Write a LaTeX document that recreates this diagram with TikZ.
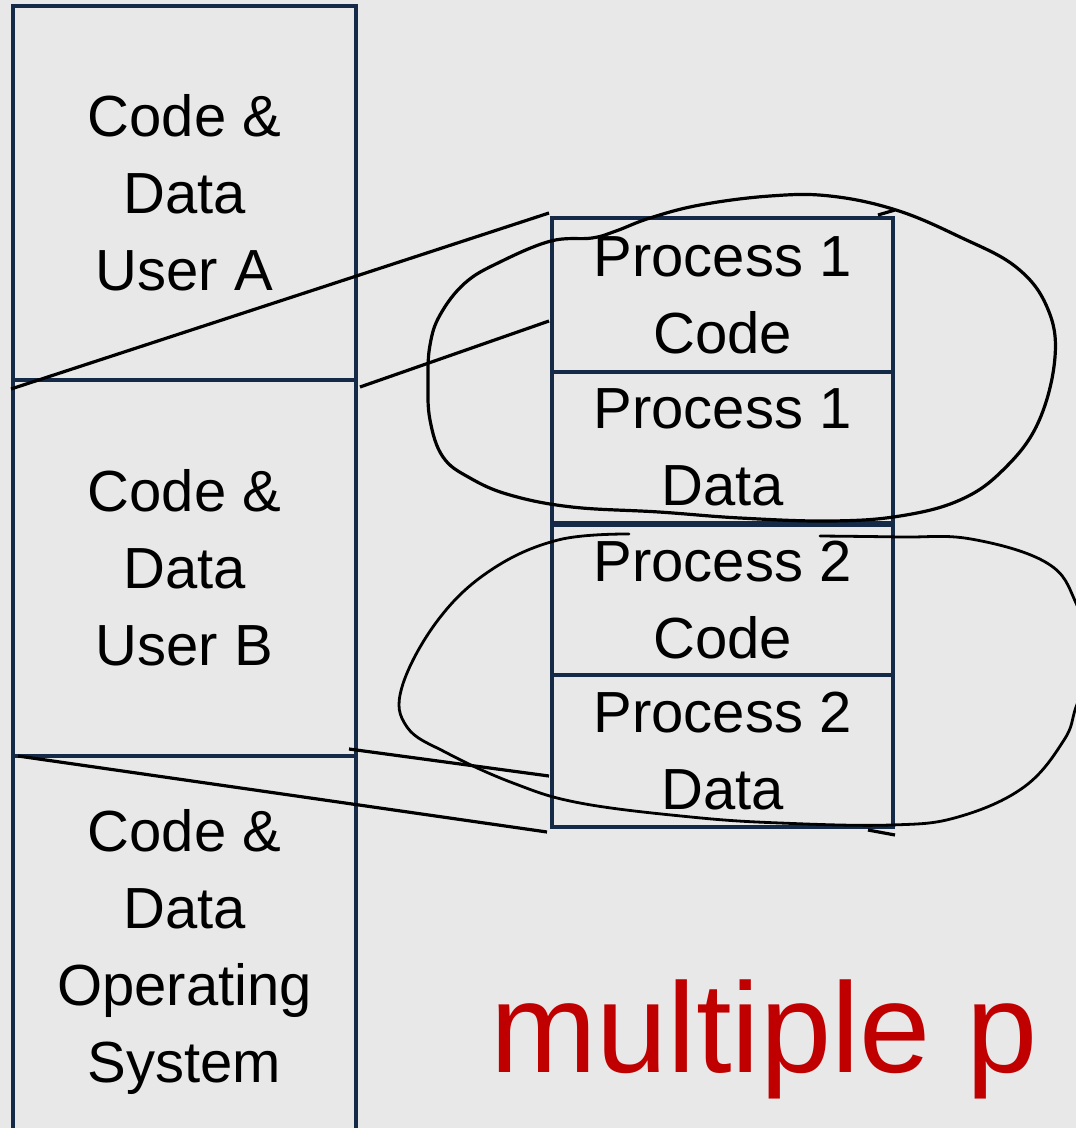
\documentclass[tikz,border=0pt]{standalone}
\usepackage{fontspec}
\setmainfont{Liberation Sans}
\usetikzlibrary{calc}
\definecolor{bg}{RGB}{232,232,232}
\definecolor{navy}{RGB}{20,42,70}
\definecolor{inkred}{RGB}{192,0,0}
\begin{document}
\begin{tikzpicture}[x=1pt,y=-1pt,
  membox/.style={draw=navy, line width=4pt, inner sep=0pt, align=center,
    font=\fontsize{58}{77}\selectfont, text=black},
  leftbox/.style={membox, minimum width=343pt},
  rightbox/.style={membox, minimum width=341pt},
  link/.style={draw=black, line width=3.2pt},
  ink/.style={draw=black, line width=3.2pt, line cap=round, line join=round}]
\useasboundingbox (0,0) rectangle (1076,1128);
\fill[bg] (0,0) rectangle (1076,1128);
\clip (0,0) rectangle (1076,1128);

% left column
\node[leftbox, minimum height=374pt] (userA) at (184.5,193) {Code \&\\Data\\User A};
\node[leftbox, minimum height=376pt] (userB) at (184.5,568) {Code \&\\Data\\User B};
\node[leftbox, minimum height=392pt] (os) at (184.5,952) {Code \&\\Data\\Operating\\System};

% right column
\node[rightbox, minimum height=154pt] (p1c) at (722.5,295) {Process 1\\Code};
\node[rightbox, minimum height=151pt] (p1d) at (722.5,447.5) {Process 1\\Data};
\node[rightbox, minimum height=150pt] (p2c) at (722.5,600) {Process 2\\Code};
\node[rightbox, minimum height=152pt] (p2d) at (722.5,751) {Process 2\\Data};

% connector end points
\coordinate (a1) at ($(userA.south west)+(0,7)$);
\coordinate (b1) at ($(p1c.north west)+(-1,-3)$);
\coordinate (a2) at ($(userA.south east)+(2,5)$);
\coordinate (b2) at ($(p1c.north west)+(-1,105)$);
\coordinate (a3) at ($(userB.south east)+(-9,-9)$);
\coordinate (b3) at ($(p2d.north west)+(-1,103)$);
\coordinate (a4) at ($(userB.south west)+(7,-2)$);
\coordinate (b4) at ($(p2d.south west)+(-3,3)$);
\coordinate (s1a) at ($(p1c.north east)+(-17,-1)$);
\coordinate (s1b) at ($(p1c.north east)+(0,-6)$);
\coordinate (s2a) at ($(p2d.south east)+(-27,1)$);
\coordinate (s2b) at ($(p2d.south east)+(0,6)$);

\draw[link] (a1) -- (b1);
\draw[link] (a2) -- (b2);
\draw[link] (a3) -- (b3);
\draw[link] (a4) -- (b4);
\draw[link] (s1a) -- (s1b);
\draw[link] (s2a) -- (s2b);

% hand-drawn loops
\draw[ink] plot[smooth cycle, tension=0.65] coordinates {
  (592,238) (551,241) (500,262) (465,283) (440,315) (430,345) (428,380)
  (430,420) (443,457) (470,478) (510,495) (572,507) (659,512) (740,518)
  (830,521) (900,516) (960,500) (1003,470) (1038,423) (1055,357)
  (1047,307) (1016,267) (960,237) (896,210) (830,196) (770,196)
  (700,205) (650,218) (616,231)};
\draw[ink, line width=2.8pt] plot[smooth, tension=0.65] coordinates {
  (820,536) (900,537) (971,539) (1047,563) (1076,603) (1092,660)
  (1076,707) (1064,740) (1024,787) (958,817) (891,825) (780,823)
  (691,817) (580,803) (513,783) (447,753) (407,727) (402,687)
  (438,620) (491,570) (558,540) (629,534)};

% handwritten note
\node[anchor=base west, inner sep=0pt, text=inkred,
  font=\fontsize{128}{128}\selectfont] (note) at (490,1072) {multiple p};
\end{tikzpicture}
\end{document}
